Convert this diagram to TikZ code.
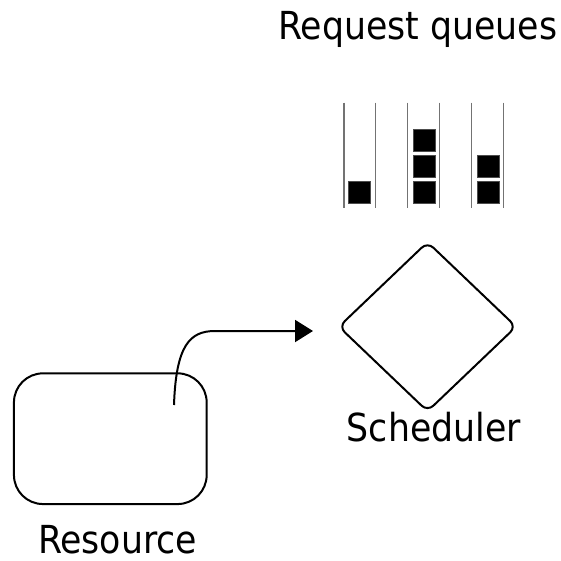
\documentclass[tikz,border=0pt]{standalone}
\usepackage{fontspec}
\setmainfont{DejaVu Sans Condensed}
\usetikzlibrary{shapes.geometric,arrows.meta,calc}

\tikzset{
  outline/.style={draw=black, line width=2pt},
  label/.style={inner sep=0pt, anchor=base, font=\fontsize{38.6}{44}\selectfont},
  rail/.style={draw=black!55, line width=1.3pt},
  job/.style={fill=black, draw=black!70, line width=0.6pt, minimum width=22pt,
              minimum height=21.5pt, inner sep=0pt, outer sep=0pt},
  link/.style={line width=2pt, -{Triangle[length=18pt,width=22pt]}}
}

\begin{document}
\begin{tikzpicture}[x=1pt, y=-1pt]
  \useasboundingbox (0,0) rectangle (560,561);

  % resource
  \node[outline, rounded corners=29pt, minimum width=192.7pt, minimum height=130.7pt,
        inner sep=0pt] (res) at (110.3,438.7) {};
  \node[label] (reslabel) at (117.5,553.3) {Resource};

  % scheduler
  \node[outline, diamond, rounded corners=8pt, minimum width=178pt, minimum height=170pt,
        inner sep=0pt] (sched) at (427.5,326.7) {};
  \node[label] (schedlabel) at (433.8,441.7) {Scheduler};

  % request queues
  \node[label] (qlabel) at (417.7,39.3) {Request queues};
  \foreach \l/\r [count=\i] in {344/375.7, 407.3/439.3, 471.7/503.7} {
    \draw[rail] (\l,102.7) -- (\l,208.3);
    \draw[rail] (\r,102.7) -- (\r,208.3);
  }
  \node[job] (q1a) at (359.7,192.5) {};
  \node[job] (q2a) at (423.8,192.5) {};
  \node[job] (q2b) at (423.8,166.2) {};
  \node[job] (q2c) at (423.8,140.5) {};
  \node[job] (q3a) at (487.8,192.5) {};
  \node[job] (q3b) at (487.8,166.2) {};

  % request path from the resource toward the scheduler
  \coordinate (src) at ($(res.center)+(63.7,-33.7)$);
  \coordinate (dst) at ($(sched.west)+(-24.5,4.3)$);
  \draw[link] (src) .. controls ($(src)+(2,-60)$) and ($(src)+(16,-74)$)
      .. ($(src)+(41,-74)$) -- (dst);
\end{tikzpicture}
\end{document}
